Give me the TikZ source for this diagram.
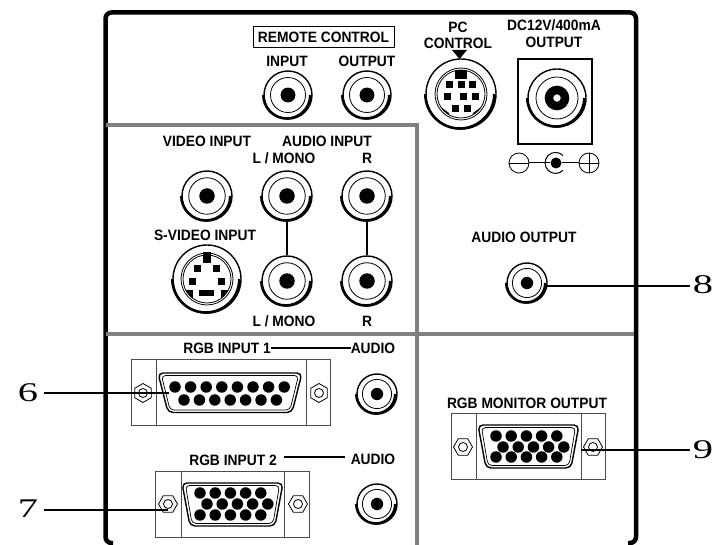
\documentclass[tikz,border=0pt]{standalone}
\usepackage{fontspec}
\setmainfont[FakeStretch=0.92]{Liberation Sans}
\newfontfamily\numfont[FakeStretch=1.5]{Liberation Serif}
\usetikzlibrary{shapes.geometric}

\tikzset{
  panel/.style={line width=4.5pt,rounded corners=6pt},
  divider/.style={line width=3.5pt,draw=black!50},
  leader/.style={line width=1.7pt},
  thinline/.style={line width=.8pt},
  lbl/.style={inner sep=0pt,font=\fontsize{15}{16}\selectfont\bfseries},
  num/.style={inner sep=1pt,font=\numfont\fontsize{27}{27}\selectfont},
  ring/.style={circle,draw,line width=1.4pt,inner sep=0pt,minimum size=#1},
  pin/.style={circle,fill,inner sep=0pt,minimum size=#1},
  sqpin/.style={fill,inner sep=0pt,minimum width=#1,minimum height=#1},
  nut/.style={regular polygon,regular polygon sides=6,draw,line width=.8pt,inner sep=0pt,minimum size=19pt},
  nutflat/.style={nut,shape border rotate=30},
  nuthole/.style={circle,draw,line width=.8pt,inner sep=0pt,minimum size=9pt},
  plate/.style={draw=black!70,line width=1pt},
  shell/.style={draw,line width=1.4pt,rounded corners=5pt},
  shellin/.style={draw,line width=.7pt,rounded corners=4pt}
}

\newcommand{\rcajack}[4]{
  \draw (#2,#3) node (#1) [ring=#4*2pt] {};
  \draw [line width=2.6pt] (#1.west) arc (180:360:#4*1pt-.5pt);
  \draw [thinline] (#2,#3) circle (#4*.73pt);
  \draw (#2,#3) node [pin=#4*.62pt] {};
}
\newcommand{\nutat}[4][nut]{
  \draw (#3,#4) node (#2) [#1] {};
  \draw (#3,#4) node [nuthole] {};
}

\begin{document}
\begin{tikzpicture}[x=1pt,y=-1pt]
\useasboundingbox (0,0) rectangle (713,545);

\draw [panel] (113,543) -- (105.5,543) -- (105.5,12.5) -- (636,12.5) -- (636,543) -- (628,543);
\draw [divider] (106,125) -- (417,125) -- (417,545);
\draw [divider] (106,334) -- (634,334);

\draw (323.5,37.5) node (remote) [draw,line width=1pt,minimum width=141pt,minimum height=21pt,inner sep=0pt,lbl] {REMOTE CONTROL};
\draw (287,61) node (inputlbl) [lbl] {INPUT};
\draw (367,61) node (outputlbl) [lbl] {OUTPUT};
\rcajack{inputjack}{288}{95}{24}
\rcajack{outputjack}{367}{95}{24}

\draw (458,27) node (pclbl) [lbl] {PC};
\draw (458,43) node (ctrllbl) [lbl] {CONTROL};
\fill (452,50) -- (467,50) -- (459.5,59) -- cycle;
\draw (461,94) node (pcjack) [ring=70pt] {};
\draw [line width=2.6pt] (pcjack.west) arc (180:360:34.5pt);
\draw [thinline] (461,94) circle (26pt);
\draw [line width=.8pt] (461,94) circle (24pt);
\begin{scope}
\clip (461,94) circle (24pt);
\fill (455,70) rectangle (467,79);
\fill (438,105) -- (449,113) -- (449,122) -- (438,122) -- cycle;
\fill (484,105) -- (473,113) -- (473,122) -- (484,122) -- cycle;
\end{scope}
\foreach \px in {449,461,472} \draw (\px,85) node [sqpin=7pt] {};
\foreach \px in {447,463,475} \draw (\px,97) node [sqpin=7pt] {};
\foreach \px in {455,467} \draw (\px,109) node [sqpin=7pt] {};

\draw (554,25) node (dclbl) [lbl] {DC12V/400mA};
\draw (554,42) node (dcout) [lbl] {OUTPUT};
\draw [line width=1.8pt] (518,59) rectangle (592,144);
\draw (557,98) node (dcjack) [ring=58pt] {};
\draw [line width=2.6pt] (dcjack.west) arc (180:360:28.5pt);
\draw [thinline] (557,98) circle (21pt);
\draw [line width=8.5pt] (557,98) circle (8pt);

\draw (519,163) node (minus) [circle,draw,line width=.8pt,inner sep=0pt,minimum size=20pt] {};
\draw (556,163) node (dcpin) [pin=11pt] {};
\draw (589,163) node (plus) [circle,draw,line width=.8pt,inner sep=0pt,minimum size=20pt] {};
\draw [line width=.8pt] (minus.west) -- (minus.east);
\draw [line width=.8pt] (plus.west) -- (plus.east);
\draw [line width=.8pt] (plus.north) -- (plus.south);
\draw [line width=1pt] (minus.east) -- (dcpin);
\draw [line width=1pt] (dcpin) -- (plus.west);
\draw [line width=1pt] (563,155.5) arc (45:315:10.5pt);

\draw (207,141) node (videolbl) [lbl] {VIDEO INPUT};
\draw (327,141) node (audiolbl) [lbl] {AUDIO INPUT};
\draw (284,158) node (lmono) [lbl] {L / MONO};
\draw (367,158) node (rlbl) [lbl] {R};
\rcajack{videojack}{207}{196}{25}
\rcajack{ljack}{287}{196}{25}
\rcajack{rjack}{367}{196}{25}
\draw (205,235) node (svideolbl) [lbl] {S-VIDEO INPUT};
\draw (207,279) node (svideo) [ring=68pt] {};
\draw [line width=2.6pt] (svideo.west) arc (180:360:33.5pt);
\draw [thinline] (207,279) circle (26pt);
\draw [line width=.8pt] (207,279) circle (24pt);
\begin{scope}
\clip (207,279) circle (24pt);
\fill (184,290) -- (193,290) -- (193,304) -- (184,304) -- cycle;
\fill (230,290) -- (221,290) -- (221,304) -- (230,304) -- cycle;
\end{scope}
\fill (203,252) rectangle (211,263);
\draw (197,269) node [sqpin=7pt] {};
\draw (216,269) node [sqpin=7pt] {};
\draw (192,282) node [sqpin=7pt] {};
\draw (221,282) node [sqpin=7pt] {};
\fill (199,290) rectangle (214,296);
\rcajack{ljackb}{287}{281}{25}
\rcajack{rjackb}{367}{281}{25}
\draw [leader] (ljack) -- (ljackb);
\draw [leader] (rjack) -- (rjackb);
\draw (284,321) node (lmonob) [lbl] {L / MONO};
\draw (367,321) node (rlblb) [lbl] {R};

\draw (524,237) node (audioout) [lbl] {AUDIO OUTPUT};
\rcajack{outjack}{527}{283}{20}
\draw (703,285) node (8) [num] {8};
\coordinate (8a) at (547,286);
\coordinate (8b) at (690,286);
\draw [leader] (8a) -- (8b);

\draw (227,348) node (rgba) [lbl] {RGB INPUT 1};
\draw (373,348) node (audioa) [lbl] {AUDIO};
\draw [leader] (rgba.east) -- (audioa.west);
\draw [plate] (131,360) rectangle (330,426);
\draw [plate] (156,360) -- (156,426);
\draw [plate] (306,360) -- (306,426);
\draw [shell] (158,373) -- (302,373) -- (292,412.5) -- (168,412.5) -- cycle;
\draw [shellin] (161.5,375.5) -- (298.5,375.5) -- (290,410) -- (170,410) -- cycle;
\foreach \i in {0,...,7} \draw (175+\i*15.6,387) node [pin=11.5pt] {};
\foreach \i in {0,...,6} \draw (184+\i*15.4,400) node [pin=11.5pt] {};
\nutat[nutflat]{nuta}{143}{393}
\nutat[nutflat]{nutb}{319}{393}
\rcajack{audiojacka}{377}{394}{20}
\draw (28,393) node (6) [num] {6};
\coordinate (6a) at (44,393);
\coordinate (6b) at (169,393);
\draw [leader] (6a) -- (6b);

\draw (233,460) node (rgbb) [lbl] {RGB INPUT 2};
\draw (373,459) node (audiob) [lbl] {AUDIO};
\coordinate (2a) at (284,457);
\coordinate (2b) at (345,457);
\draw [leader] (2a) -- (2b);
\draw [plate] (155,472) rectangle (309,537);
\draw [plate] (181,472) -- (181,537);
\draw [plate] (284,472) -- (284,537);
\draw [shell] (182,483) -- (283,483) -- (275,526) -- (190,526) -- cycle;
\draw [shellin] (185.5,485.5) -- (279.5,485.5) -- (273,523.5) -- (192,523.5) -- cycle;
\foreach \i in {0,...,4} {
  \draw (200+\i*15.2,493) node [pin=11.5pt] {};
  \draw (207+\i*15.2,504) node [pin=11.5pt] {};
  \draw (200+\i*15.2,515) node [pin=11.5pt] {};
}
\nutat{nutc}{168}{504}
\nutat{nutd}{298}{504}
\rcajack{audiojackb}{377}{504}{20}
\draw (28,509) node (7) [num] {7};
\coordinate (7a) at (44,510);
\coordinate (7b) at (168,510);
\draw [leader] (7a) -- (7b);

\draw (527,403) node (monlbl) [lbl] {RGB MONITOR OUTPUT};
\draw [plate] (451,414) rectangle (605,480);
\draw [plate] (476,414) -- (476,480);
\draw [plate] (581,414) -- (581,480);
\draw [shell] (478,425) -- (579,425) -- (571,468) -- (486,468) -- cycle;
\draw [shellin] (481.5,427.5) -- (575.5,427.5) -- (569,465.5) -- (488,465.5) -- cycle;
\foreach \i in {0,...,4} {
  \draw (496+\i*15.2,436) node [pin=11.5pt] {};
  \draw (503+\i*15.2,447) node [pin=11.5pt] {};
  \draw (496+\i*15.2,457) node [pin=11.5pt] {};
}
\nutat{nute}{463}{447}
\nutat{nutf}{593}{447}
\draw (703,450) node (9) [num] {9};
\coordinate (9a) at (581,450);
\coordinate (9b) at (690,450);
\draw [leader] (9a) -- (9b);
\end{tikzpicture}
\end{document}
